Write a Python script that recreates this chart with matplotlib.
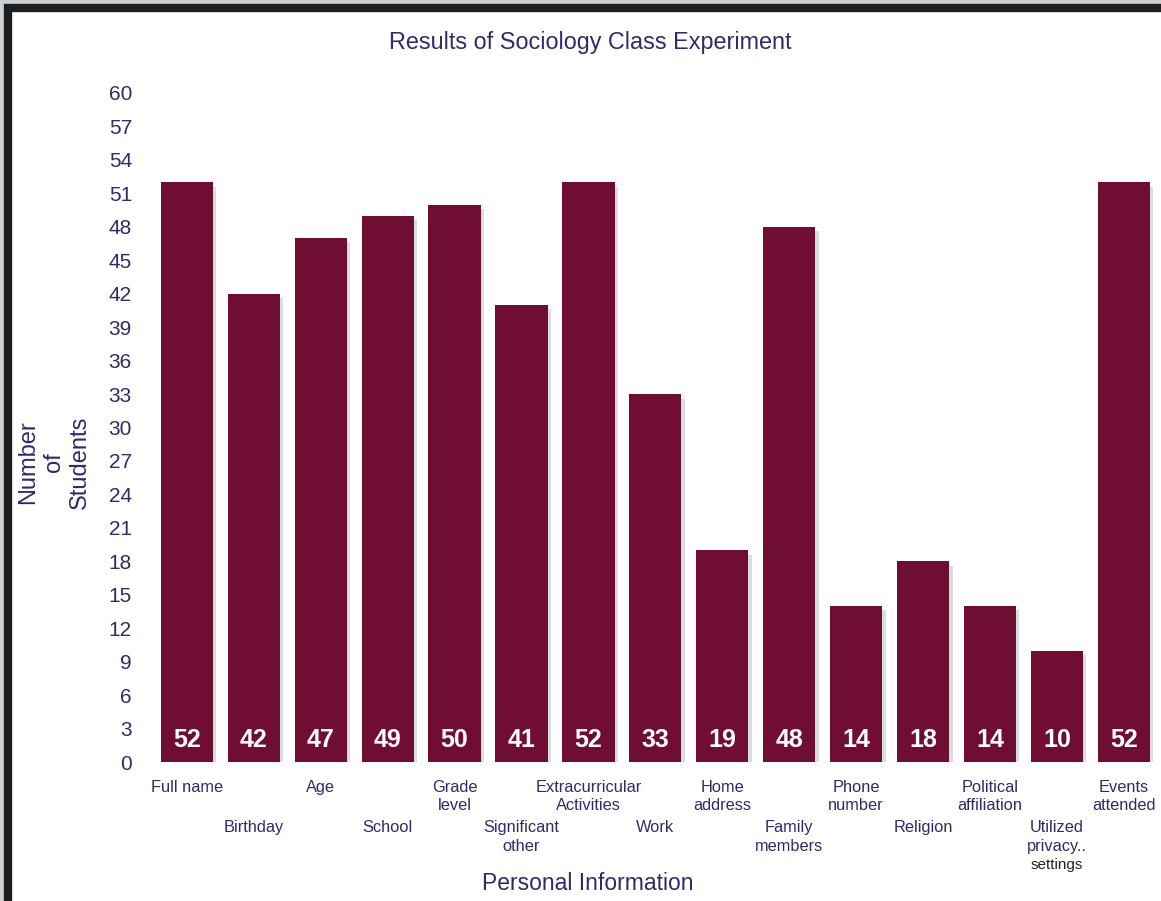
import matplotlib
matplotlib.use("Agg")
import matplotlib.pyplot as plt
from matplotlib.patches import Rectangle

# data
categories = ['Full name', 'Birthday', 'Age', 'School', 'Grade\nlevel',
              'Significant\nother', 'Extracurricular\nActivities', 'Work',
              'Home\naddress', 'Family\nmembers', 'Phone\nnumber', 'Religion',
              'Political\naffiliation', 'Utilized\nprivacy..', 'Events\nattended']
students = [52, 42, 47, 49, 50, 41, 52, 33, 19, 48, 14, 18, 14, 10, 52]
y_ticks = list(range(0, 61, 3))

navy = '#2d2b6c'
maroon = '#6f0e32'

plt.rcParams['font.family'] = ['Liberation Sans', 'DejaVu Sans']

fig = plt.figure(figsize=(11.61, 9.01), dpi=100)
fig.patch.set_facecolor('#c9d1d6')
# white panel with a dark frame
fig.patches.append(Rectangle((8 / 1161, -0.05), 1.1, 1.05 - 8 / 901,
                             transform=fig.transFigure, facecolor='white',
                             edgecolor='#1e1e1e', linewidth=6, zorder=-10))

ax = fig.add_axes([150 / 1161, 1 - 762 / 901, (1154 - 150) / 1161, (762 - 93) / 901])
ax.set_facecolor('none')
x = list(range(len(students)))

# soft shadow behind bars
ax.bar([i + 0.05 for i in x], students, width=0.78, bottom=-0.4,
       color='#d8dde0', zorder=1)
ax.bar(x, students, width=0.78, color=maroon, zorder=2)

for i, v in enumerate(students):
    ax.text(i, 2.0, str(v), ha='center', va='center', color='white',
            fontsize=18, fontweight='bold', zorder=3)

ax.set_xlim(-0.55, 14.45)
ax.set_ylim(0, 60)
ax.set_yticks(y_ticks)
ax.tick_params(axis='y', length=0, labelsize=15, labelcolor=navy, pad=13)
ax.set_xticks([])
for s in ax.spines.values():
    s.set_visible(False)

# category labels in two staggered rows
for i, lab in enumerate(categories):
    y = -1.6 if i % 2 == 0 else -5.2
    ax.text(i, y, lab, ha='center', va='top', color=navy, fontsize=11.8,
            linespacing=1.3)
ax.text(13, -9.2, 'settings', ha='center', va='center', color='#222222', fontsize=11)

fig.text(590 / 1161, 1.0 - 43 / 901, 'Results of Sociology Class Experiment',
         ha='center', va='center', color=navy, fontsize=16.8)
fig.text(588 / 1161, 1 - 884 / 901, 'Personal Information', ha='center', va='center',
         color=navy, fontsize=16.5)
fig.text(54 / 1161, 1 - 462 / 901, 'Number\nof\nStudents', rotation=90,
         ha='center', va='center', color=navy, fontsize=17, linespacing=1.2,
         multialignment='center')

fig.savefig('out.png', dpi=100)
